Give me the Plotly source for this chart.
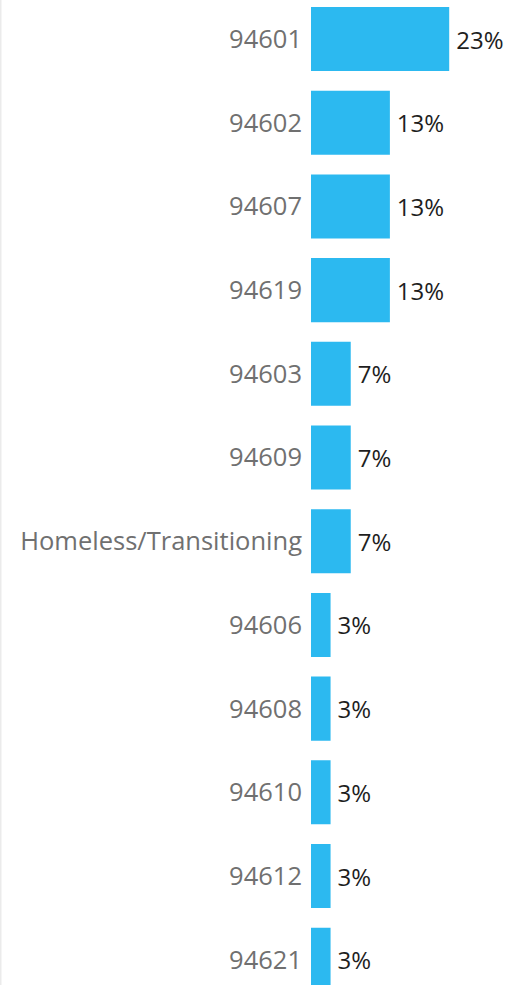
import plotly.graph_objects as go

categories = ["94601", "94602", "94607", "94619", "94603", "94609",
              "Homeless/Transitioning", "94606", "94608", "94610", "94612", "94621"]
percent = [23.3, 13.3, 13.3, 13.3, 6.7, 6.7, 6.7, 3.3, 3.3, 3.3, 3.3, 3.3]

fig = go.Figure(go.Bar(
    x=percent,
    y=categories,
    orientation="h",
    marker=dict(color="#2cb9f0", line=dict(width=0)),
    width=0.765,
    texttemplate="\u2009%{x:.0f}%",
    textposition="outside",
    cliponaxis=False,
    textfont=dict(family="Open Sans", size=24, color="#1e1e1e"),
    hoverinfo="skip",
))

fig.update_layout(
    width=518, height=985,
    margin=dict(l=0, r=0, t=0, b=0),
    paper_bgcolor="white", plot_bgcolor="white",
    showlegend=False,
    xaxis=dict(domain=[311/518, 1], range=[0, 34.9], visible=False),
    yaxis=dict(
        type="category",
        range=[11.302, -0.466],
        showgrid=False, zeroline=False, showline=False, ticks="",
        tickfont=dict(family="Open Sans", size=25.5, color="#707070"),
        ticklabelstandoff=8,
    ),
    shapes=[dict(type="line", xref="paper", yref="paper", x0=0.001, x1=0.001,
                 y0=0, y1=1, line=dict(color="#ebebeb", width=2))],
)

fig.write_html("out.html", config={"displayModeBar": False},
               post_script="document.body.style.margin='0';document.body.style.overflow='hidden';")
